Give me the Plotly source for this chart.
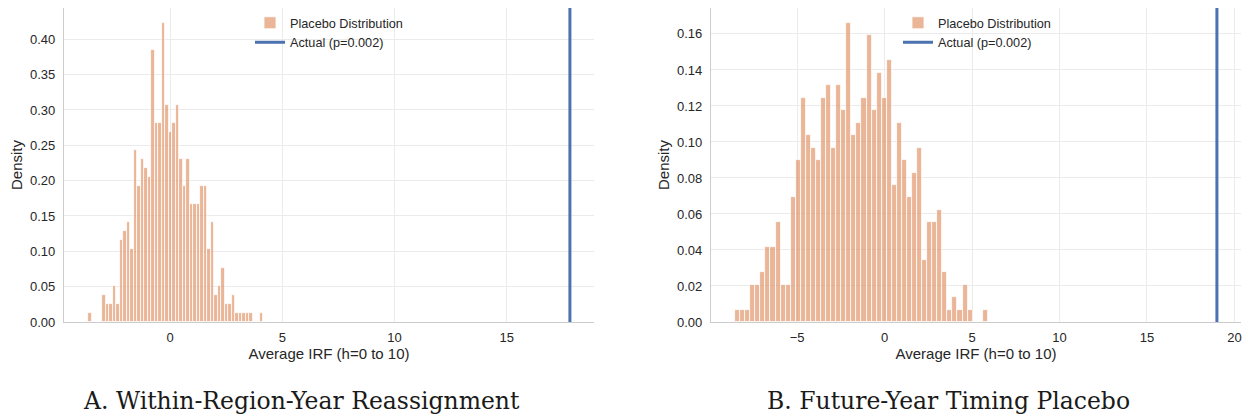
import numpy as np
import plotly.graph_objects as go

# ---------------- data ----------------
# Panel A: Within-Region-Year Reassignment (50 bins, density)
left_bin_min = -3.66
left_bin_max = 4.14
left_density = [0.0128, 0, 0, 0, 0.0385, 0.0256, 0.0256, 0.0513, 0.0256, 0.1154,
                0.1282, 0.1410, 0.1026, 0.2436, 0.1923, 0.2308, 0.2179, 0.2051, 0.3846, 0.2821,
                0.2821, 0.4231, 0.3077, 0.2692, 0.2821, 0.3077, 0.2308, 0.1923, 0.2308, 0.1667,
                0.1667, 0.1667, 0.1923, 0.1923, 0.1026, 0.1410, 0.0385, 0.0513, 0.0769, 0.0256,
                0.0256, 0.0385, 0.0128, 0.0128, 0.0128, 0.0128, 0.0128, 0, 0, 0.0128]
left_actual = 17.82

# Panel B: Future-Year Timing Placebo (50 bins, density)
right_bin_min = -8.55
right_bin_max = 5.90
right_density = [0.0069, 0.0069, 0.0069, 0.0208, 0.0208, 0.0277, 0.0415, 0.0415, 0.0554, 0.0208,
                 0.0208, 0.0692, 0.0900, 0.1246, 0.1038, 0.0969, 0.0900, 0.1246, 0.1315, 0.0969,
                 0.1315, 0.1176, 0.1661, 0.1038, 0.1107, 0.1246, 0.1592, 0.1176, 0.1384, 0.1246,
                 0.1453, 0.0761, 0.1107, 0.0900, 0.0692, 0.0830, 0.0969, 0.0346, 0.0554, 0.0554,
                 0.0623, 0.0277, 0.0069, 0.0138, 0.0069, 0.0208, 0.0069, 0, 0, 0.0069]
right_actual = 19.0

left_xticks = [0, 5, 10, 15]
right_xticks = [-5, 0, 5, 10, 15, 20]
left_yticks = [0.00, 0.05, 0.10, 0.15, 0.20, 0.25, 0.30, 0.35, 0.40]
right_yticks = [0.00, 0.02, 0.04, 0.06, 0.08, 0.10, 0.12, 0.14, 0.16]

panel_titles = ["A. Within-Region-Year Reassignment", "B. Future-Year Timing Placebo"]
legend_names = ["Placebo Distribution", "Actual (p=0.002)"]
x_title = "Average IRF (h=0 to 10)"
y_title = "Density"

# ---------------- style ----------------
W, H = 1245, 419
BAR_COLOR = "rgba(221,132,82,0.6)"
LINE_COLOR = "#4C72B0"
GRID = "#EBEBEB"
SPINE = "#CCCCCC"
TXT = "#262626"
FONT = "Liberation Sans"


def px_x(p):
    return p / W


def px_y(p):
    return 1 - p / H


fig = go.Figure()

panels = [
    dict(dens=left_density, lo=left_bin_min, hi=left_bin_max, actual=left_actual,
         xticks=left_xticks, yticks=left_yticks, xa="x", ya="y", legend="legend"),
    dict(dens=right_density, lo=right_bin_min, hi=right_bin_max, actual=right_actual,
         xticks=right_xticks, yticks=right_yticks, xa="x2", ya="y2", legend="legend2"),
]

x_domains = [[px_x(64), px_x(594)], [px_x(711), px_x(1241)]]
y_domain = [px_y(322), px_y(8)]

for i, p in enumerate(panels):
    edges = np.linspace(p["lo"], p["hi"], len(p["dens"]) + 1)
    centers = (edges[:-1] + edges[1:]) / 2
    width = edges[1] - edges[0]
    fig.add_trace(go.Bar(
        x=centers, y=p["dens"], width=width,
        marker=dict(color=BAR_COLOR, line=dict(color="white", width=0.8)),
        name=legend_names[0], xaxis=p["xa"], yaxis=p["ya"], legend=p["legend"],
    ))
    ymax = max(p["dens"]) * 1.05
    fig.add_trace(go.Scatter(
        x=[p["actual"], p["actual"]], y=[0, ymax], mode="lines",
        line=dict(color=LINE_COLOR, width=3),
        name=legend_names[1], xaxis=p["xa"], yaxis=p["ya"], legend=p["legend"],
    ))
    span = p["actual"] - p["lo"]
    xr = [p["lo"] - 0.05 * span, p["actual"] + 0.05 * span]
    sfx = "" if i == 0 else "2"
    fig.update_layout(**{
        "xaxis" + sfx: dict(
            domain=x_domains[i], range=xr, anchor="y" + sfx, automargin=False,
            tickvals=p["xticks"], showgrid=True, gridcolor=GRID, gridwidth=1,
            showline=True, linecolor=SPINE, linewidth=1.3, zeroline=False,
            ticks="", ticklabelstandoff=3,
            tickfont=dict(family=FONT, size=13, color=TXT),
            title=dict(text=x_title, font=dict(family=FONT, size=15, color=TXT), standoff=4),
        ),
        "yaxis" + sfx: dict(
            domain=y_domain, range=[0, ymax], anchor="x" + sfx, automargin=False,
            tickvals=p["yticks"], tickformat=".2f", showgrid=True, gridcolor=GRID, gridwidth=1,
            showline=True, linecolor=SPINE, linewidth=1.3, zeroline=False,
            ticks="", ticklabelstandoff=5,
            tickfont=dict(family=FONT, size=13, color=TXT),
            title=dict(text=y_title, font=dict(family=FONT, size=15, color=TXT), standoff=3),
        ),
    })

legend_style = dict(
    xanchor="left", yanchor="top", bgcolor="rgba(255,255,255,0)",
    font=dict(family=FONT, size=12.7, color=TXT), tracegroupgap=0, itemwidth=30,
)
fig.update_layout(
    legend=dict(x=px_x(250), y=px_y(8), **legend_style),
    legend2=dict(x=px_x(898), y=px_y(8), **legend_style),
)

title_x = [px_x(301), px_x(949)]
for i, t in enumerate(panel_titles):
    fig.add_annotation(
        text=t, x=title_x[i], y=px_y(401), xref="paper", yref="paper",
        xanchor="center", yanchor="middle", showarrow=False,
        font=dict(family="DejaVu Serif", size=23.5, color="#1a1a1a"),
    )

fig.update_layout(
    width=W, height=H, margin=dict(l=0, r=0, t=0, b=0, autoexpand=False),
    plot_bgcolor="white", paper_bgcolor="white", bargap=0, showlegend=True,
)

fig.write_html(
    "out.html",
    config={"displayModeBar": False},
    post_script="document.body.style.margin='0';document.body.style.overflow='hidden';",
)
